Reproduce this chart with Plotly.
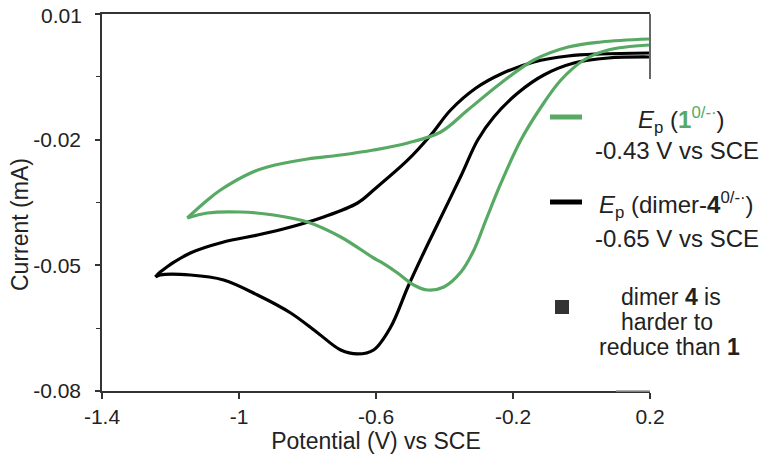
import plotly.graph_objects as go

# ---- data (V vs SCE, mA) ----
black_fwd_v = [0.197, 0.078, -0.022, -0.110, -0.186, -0.256, -0.303, -0.352, -0.420, -0.461, -0.507,
               -0.557, -0.607, -0.654, -0.703, -0.770, -0.849, -0.946, -1.045, -1.142, -1.230, -1.244]
black_fwd_i = [-0.00026, -0.00050, -0.00170, -0.00456, -0.00886, -0.01459, -0.02008, -0.02867, -0.04013,
               -0.04705, -0.05517, -0.06472, -0.07021, -0.07116, -0.07021, -0.06615, -0.06138, -0.05708,
               -0.05350, -0.05231, -0.05231, -0.05278]
black_rev_v = [-1.244, -1.230, -1.142, -1.045, -0.946, -0.849, -0.753, -0.654, -0.607, -0.507, -0.440,
               -0.382, -0.308, -0.235, -0.139, -0.039, 0.057, 0.197]
black_rev_i = [-0.05278, -0.05159, -0.04705, -0.04443, -0.04276, -0.04085, -0.03846, -0.03512, -0.03201,
               -0.02485, -0.01889, -0.01292, -0.00767, -0.00432, -0.00146, -0.00003, 0.00045, 0.00069]

green_fwd_v = [0.197, 0.078, 0.007, -0.060, -0.118, -0.177, -0.235, -0.279, -0.314, -0.352, -0.402,
               -0.449, -0.490, -0.537, -0.586, -0.607, -0.703, -0.800, -0.899, -0.996, -1.092, -1.151]
green_fwd_i = [0.00260, 0.00141, -0.00098, -0.00576, -0.01220, -0.02008, -0.03034, -0.03918, -0.04634,
               -0.05160, -0.05517, -0.05589, -0.05469, -0.05183, -0.04920, -0.04825, -0.04323, -0.03965,
               -0.03798, -0.03727, -0.03750, -0.03870]
green_rev_v = [-1.151, -1.092, -1.054, -0.966, -0.917, -0.800, -0.703, -0.607, -0.507, -0.411, -0.332,
               -0.235, -0.139, -0.039, 0.057, 0.197]
green_rev_i = [-0.03870, -0.03440, -0.03201, -0.02796, -0.02652, -0.02461, -0.02366, -0.02247, -0.02079,
               -0.01817, -0.01292, -0.00647, -0.00098, 0.00212, 0.00332, 0.00403]

x_ticks = [-1.4, -1.0, -0.6, -0.2, 0.2]
x_ticktext = ["-1.4", "-1", "-0.6", "-0.2", "0.2"]
y_ticks = [0.01, -0.02, -0.05, -0.08]
y_ticktext = ["0.01", "-0.02", "-0.05", "-0.08"]
y_minor = [-0.005, -0.035, -0.065]

GREEN = "#57a964"
BLACK = "#000000"
AX = "#333333"
TXT = "#222222"
FONT = "Liberation Sans, Arial, Helvetica, sans-serif"

PAGE_W, PAGE_H = 772, 457
OFF = 8  # default page body margin
W, H = PAGE_W - OFF, PAGE_H - OFF
# plot area in page pixels
L, R, T, B = 102, 650, 14, 391


def px(x):
    return (x - L) / (R - L)


def py(y):
    return (B - y) / (B - T)


fig = go.Figure()
for v, i, c in [(black_fwd_v, black_fwd_i, BLACK), (black_rev_v, black_rev_i, BLACK),
                (green_fwd_v, green_fwd_i, GREEN), (green_rev_v, green_rev_i, GREEN)]:
    fig.add_trace(go.Scatter(x=v, y=i, mode="lines",
                             line=dict(color=c, width=3.2, shape="spline", smoothing=1.0),
                             showlegend=False, hoverinfo="skip"))

# the top tick label would be clipped at the page edge; draw it as an annotation instead
y_ticktext_axis = [""] + y_ticktext[1:]

fig.update_layout(
    width=W, height=H, autosize=False,
    margin=dict(l=L - OFF, r=W - (R - OFF), t=T - OFF, b=H - (B - OFF), pad=0),
    paper_bgcolor="white", plot_bgcolor="white",
    font=dict(family=FONT, color=TXT, size=21),
    xaxis=dict(range=[-1.4, 0.2], tickvals=x_ticks, ticktext=x_ticktext, automargin=False,
               showgrid=False, zeroline=False, showline=True, linecolor=AX, linewidth=1.5,
               mirror=True, ticklabeloverflow="allow",
               ticks="outside", ticklen=6, tickcolor=AX, tickwidth=1.5,
               tickfont=dict(size=21, color=TXT),
               title=dict(text="Potential (V) vs SCE", font=dict(size=23, color=TXT), standoff=2)),
    yaxis=dict(range=[-0.08, 0.01], tickvals=y_ticks, ticktext=y_ticktext_axis, automargin=False,
               showgrid=False, zeroline=False, showline=True, linecolor=AX, linewidth=1.5,
               ticklabeloverflow="allow", ticklabelstandoff=10,
               ticks="outside", ticklen=5, tickcolor=AX, tickwidth=1.5,
               tickfont=dict(size=21, color=TXT),
               minor=dict(tickvals=y_minor, ticks="outside", ticklen=4, tickcolor=AX, tickwidth=1.2)),
)

shapes = [
    # short right frame line
    dict(type="line", xref="paper", yref="paper", x0=1, x1=1, y0=1, y1=py(79),
         line=dict(color=AX, width=1.5)),
    # lighter tail of x axis
    dict(type="line", xref="paper", yref="paper", x0=px(616), x1=1, y0=0, y1=0,
         line=dict(color="#9a9a9a", width=1.5)),
    # legend line samples
    dict(type="line", xref="paper", yref="paper", x0=px(550), x1=px(582), y0=py(117), y1=py(117),
         line=dict(color=GREEN, width=5)),
    dict(type="line", xref="paper", yref="paper", x0=px(550), x1=px(582), y0=py(202), y1=py(202),
         line=dict(color=BLACK, width=5)),
    # square bullet
    dict(type="rect", xref="paper", yref="paper", x0=px(555), x1=px(569), y0=py(314), y1=py(300),
         fillcolor="#333333", line=dict(width=0)),
]
fig.update_layout(shapes=shapes)

# top tick label
fig.add_annotation(x=px(84), y=py(16), xref="paper", yref="paper", text=y_ticktext[0],
                   showarrow=False, xanchor="right", yanchor="middle",
                   font=dict(family=FONT, size=21, color=TXT))

# y-axis title as rotated annotation
fig.add_annotation(x=px(20), y=py(225), xref="paper", yref="paper", text="Current (mA)",
                   showarrow=False, textangle=-90, xanchor="center", yanchor="middle",
                   font=dict(family=FONT, size=23, color=TXT))

ann = [
    (681, 120, 24, "<i>E</i><sub>p</sub> (<b><span style='color:%s'>1</span></b><span style='color:%s'><sup>0/-·</sup></span>)" % (GREEN, GREEN)),
    (677, 150, 24, "-0.43 V vs SCE"),
    (676, 205, 24, "<i>E</i><sub>p</sub> (dimer-<b>4</b><sup>0/-·</sup>)"),
    (677, 238, 24, "-0.65 V vs SCE"),
    (671, 297, 23, "dimer <b>4</b> is"),
    (667, 322, 23, "harder to"),
    (669, 347, 23, "reduce than <b>1</b>"),
]
for x, y, s, t in ann:
    fig.add_annotation(x=px(x), y=py(y), xref="paper", yref="paper", text=t, showarrow=False,
                       xanchor="center", yanchor="middle",
                       font=dict(family=FONT, size=s, color=TXT))

fig.write_html("out.html")
